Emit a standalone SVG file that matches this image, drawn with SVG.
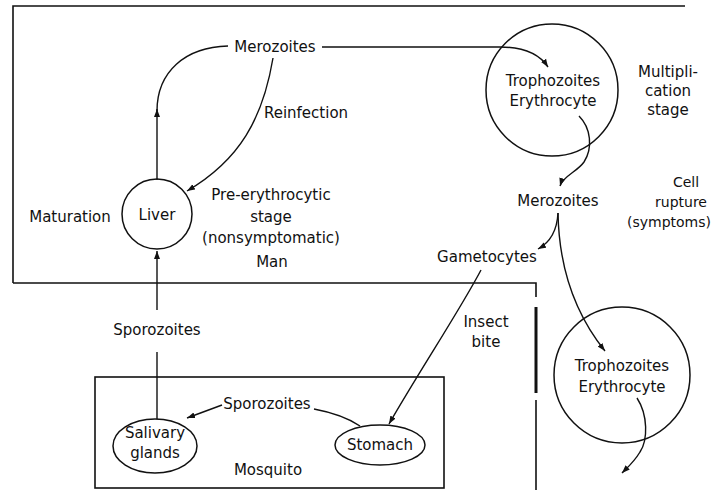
<svg xmlns="http://www.w3.org/2000/svg" width="716" height="490" viewBox="0 0 716 490">
<defs>
<style>
text{font-family:"DejaVu Sans","Liberation Sans",Arial,sans-serif;font-size:15px;fill:#111;text-anchor:middle}
.sm{font-size:14px}
.ln{fill:none;stroke:#111;stroke-width:1.4}
.shape{fill:none;stroke:#111;stroke-width:1.5}
.box{fill:none;stroke:#111;stroke-width:1.6}
</style>
<marker id="ah" markerUnits="userSpaceOnUse" markerWidth="9" markerHeight="7" refX="8" refY="3.5" orient="auto">
<path d="M0,0.5 L8,3.5 L0,6.5 z" fill="#111"/>
</marker>
</defs>
<rect width="716" height="490" fill="#fff"/>
<g id="boxes">
<path class="box" d="M13,283 L13,6 L685,6"/>
<path class="box" d="M13,283 L536,283 L536,297"/>
<path d="M536,307 L536,393" stroke="#111" stroke-width="3" fill="none"/>
<path class="box" d="M536,400 L536,490"/>
<rect class="box" x="95" y="377" width="349" height="111"/>
</g>
<g id="connectors">
<path class="ln" d="M322,47 L500,47 C525,47 540,55 548,67" marker-end="url(#ah)"/>
<path class="ln" d="M157,180 L157,109" marker-end="url(#ah)"/>
<path class="ln" d="M157,111 C157,72 185,47 228,46"/>
<path class="ln" d="M273,58 C263,118 240,160 187,191" marker-end="url(#ah)"/>
<path class="ln" d="M579,116 C591,128 593,148 584,162 C577,172 563,176 560,186" marker-end="url(#ah)"/>
<path class="ln" d="M558,213 C557,232 549,243 538,249" marker-end="url(#ah)"/>
<path class="ln" d="M558,213 C559,270 576,315 605,351" marker-end="url(#ah)"/>
<path class="ln" d="M637,398 C648,415 648,440 640,452 C634,462 628,467 622,473" marker-end="url(#ah)"/>
<path class="ln" d="M481,270 C460,310 420,370 389,424" marker-end="url(#ah)"/>
<path class="ln" d="M157,310 L157,251" marker-end="url(#ah)"/>
<path class="ln" d="M157,419 L157,352"/>
<path class="ln" d="M222,405 L187,418" marker-end="url(#ah)"/>
<path class="ln" d="M314,409 C330,412 348,418 360,426"/>
</g>
<g id="merozoites-top"><text x="275" y="52">Merozoites</text></g>
<g id="reinfection"><text x="306" y="118">Reinfection</text></g>
<g id="liver"><circle class="shape" cx="157" cy="214" r="35"/><text x="157" y="220">Liver</text></g>
<g id="maturation"><text x="70" y="222">Maturation</text></g>
<g id="pre-erythrocytic"><text x="271" y="200">Pre-erythrocytic</text><text x="271" y="222">stage</text><text x="271" y="243">(nonsymptomatic)</text></g>
<g id="man"><text x="272" y="267">Man</text></g>
<g id="erythrocyte-1"><circle class="shape" cx="552" cy="90" r="66"/><text x="553" y="86">Trophozoites</text><text x="553" y="106">Erythrocyte</text></g>
<g id="multiplication"><text x="668" y="77">Multipli-</text><text x="668" y="96">cation</text><text x="668" y="115">stage</text></g>
<g id="merozoites-mid"><text x="558" y="206">Merozoites</text></g>
<g id="cell-rupture"><text class="sm" x="686" y="187">Cell</text><text class="sm" x="681" y="207">rupture</text><text class="sm" x="711" y="227" style="text-anchor:end">(symptoms)</text></g>
<g id="gametocytes"><text x="487" y="262">Gametocytes</text></g>
<g id="insect-bite"><text x="486" y="327">Insect</text><text x="486" y="347">bite</text></g>
<g id="erythrocyte-2"><circle class="shape" cx="622" cy="375" r="68"/><text x="622" y="371">Trophozoites</text><text x="622" y="392">Erythrocyte</text></g>
<g id="sporozoites-1"><text x="157" y="335">Sporozoites</text></g>
<g id="sporozoites-2"><text x="267" y="409">Sporozoites</text></g>
<g id="salivary-glands"><ellipse class="shape" cx="155" cy="446" rx="42" ry="27"/><text x="155" y="438">Salivary</text><text x="155" y="458">glands</text></g>
<g id="stomach"><ellipse class="shape" cx="380" cy="445" rx="45" ry="20"/><text x="380" y="450">Stomach</text></g>
<g id="mosquito"><text x="268" y="475">Mosquito</text></g>
</svg>
